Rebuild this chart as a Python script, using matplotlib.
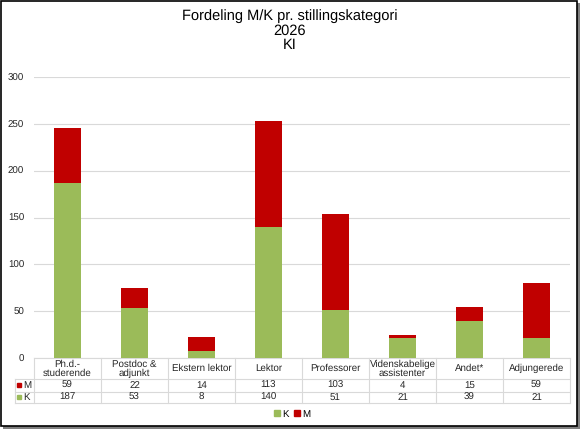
import numpy as np
import matplotlib.pyplot as plt
from matplotlib.patches import Rectangle, Patch

plt.rcParams["font.family"] = ["Liberation Sans", "DejaVu Sans"]
plt.rcParams["text.hinting"] = "no_hinting"

categories = ["Ph.d.-\nstuderende", "Postdoc &\nadjunkt", "Ekstern lektor", "Lektor",
              "Professorer", "Videnskabelige\nassistenter", "Andet*", "Adjungerede"]
k_vals = [187, 53, 8, 140, 51, 21, 39, 21]
m_vals = [59, 22, 14, 113, 103, 4, 15, 59]
yticks = [0, 50, 100, 150, 200, 250, 300]

green = "#9bbb59"
red = "#c00000"
grid_c = "#d9d9d9"

fig = plt.figure(figsize=(5.8, 4.29), dpi=100)
W, H = 580, 429
ax = fig.add_axes([34 / W, 1 - 358 / H, 536 / W, 281 / H])

x = np.arange(len(categories))
ax.bar(x, k_vals, width=0.39, color=green, zorder=3)
ax.bar(x, m_vals, width=0.39, bottom=k_vals, color=red, zorder=3)

ax.set_xlim(-0.5, len(categories) - 0.5)
ax.set_ylim(0, 300)
ax.set_yticks(yticks)
ax.tick_params(axis="y", length=0, labelsize=7, pad=7, labelcolor="#262626")
ax.set_xticks([])
ax.grid(axis="y", color=grid_c, lw=0.8, zorder=0)
for s in ax.spines.values():
    s.set_visible(False)

# data table under the plot
n = len(categories)
tr = ax.transAxes
xl = -19 / 536
y_head = -21 / 281
y_m = -33.5 / 281
y_k = -45 / 281
lk = dict(transform=tr, clip_on=False, color=grid_c, lw=0.8)
ax.plot([0, 1], [0, 0], **lk)
for yy in [y_head, y_m, y_k]:
    ax.plot([xl, 1], [yy, yy], **lk)
for i in range(n + 1):
    ax.plot([i / n, i / n], [0, y_k], **lk)
ax.plot([xl, xl], [y_head, y_k], **lk)

tk = dict(transform=tr, ha="center", va="center", fontsize=7, color="#262626", clip_on=False)
for i in range(n):
    xc = (i + 0.5) / n
    ax.text(xc, y_head / 2, categories[i], linespacing=0.95, **tk)
    ax.text(xc, (y_head + y_m) / 2, str(m_vals[i]), **tk)
    ax.text(xc, (y_m + y_k) / 2, str(k_vals[i]), **tk)

for lab, col, y0, y1 in [("M", red, y_head, y_m), ("K", green, y_m, y_k)]:
    yc = (y0 + y1) / 2
    ax.plot([xl + 0.008], [yc], marker="s", ms=3.5, color=col, transform=tr, clip_on=False)
    ax.text(xl + 0.016, yc, lab, transform=tr, ha="left", va="center", fontsize=7,
            color="#262626", clip_on=False)

fig.text(290 / W, 1 - 30.5 / H, "Fordeling M/K pr. stillingskategori\n2026\nKI",
         ha="center", va="center", fontsize=10.5, linespacing=1.05)

handles = [Patch(color=green, label="K"), Patch(color=red, label="M")]
fig.legend(handles=handles, loc="center", bbox_to_anchor=(292 / W, 1 - 414 / H),
           ncol=2, frameon=False, fontsize=7, handlelength=0.6, handleheight=0.6,
           handletextpad=0.2, columnspacing=0.6)

# frame with shadow
fig.patches.append(Rectangle((3 / W, 0), 1 - 3 / W, 1 - 3 / H, transform=fig.transFigure,
                             facecolor="#7f7f7f", edgecolor="none", zorder=-2))
fig.patches.append(Rectangle((0.5 / W, 3.5 / H), 1 - 4 / W, 1 - 4.5 / H, transform=fig.transFigure,
                             facecolor="white", edgecolor="black", lw=1.2, zorder=-1))

fig.savefig("out.png", dpi=100)
